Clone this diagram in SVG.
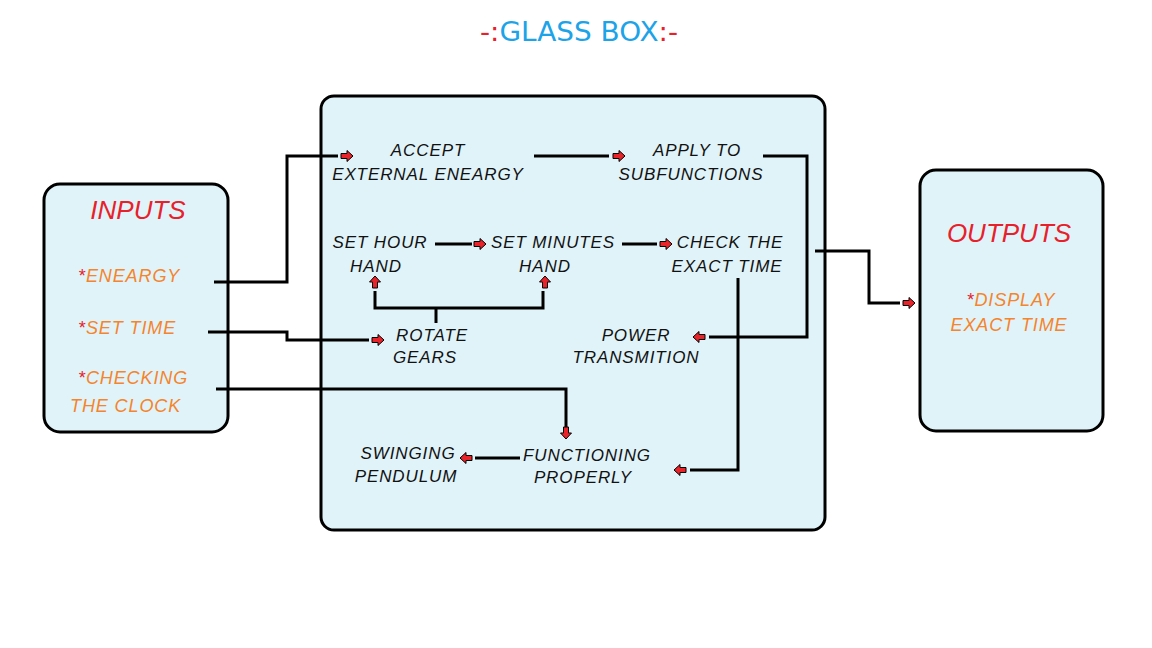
<svg xmlns="http://www.w3.org/2000/svg" xmlns:xlink="http://www.w3.org/1999/xlink" width="1152" height="648" viewBox="0 0 1152 648">
<style>
.box{fill:#e0f3f9;stroke:#000;stroke-width:3}
.wire{fill:none;stroke:#000;stroke-width:3}
.lbl{font-family:"Liberation Sans","DejaVu Sans",sans-serif;font-style:italic;font-size:17px;letter-spacing:0.9px;fill:#111;text-anchor:middle}
.head{font-family:"Liberation Sans","DejaVu Sans",sans-serif;font-style:italic;font-size:26px;fill:#e8202a;text-anchor:middle}
.item{font-family:"Liberation Sans","DejaVu Sans",sans-serif;font-style:italic;font-size:18px;letter-spacing:0.9px;fill:#f5842c}
.ast{fill:#e8202a}
.title{font-family:"DejaVu Sans",sans-serif;font-size:26px;text-anchor:middle}
</style>
<defs>
<path id="arr" d="M-12,-2.5 H-6 V-5.5 L0,0 L-6,5.5 V2.5 H-12 Z" fill="#e8242a" stroke="#000" stroke-width="1"/>
</defs>
<rect width="1152" height="648" fill="#fff"/>
<g id="title"><text class="title" x="579" y="41" textLength="198" lengthAdjust="spacingAndGlyphs"><tspan fill="#e8202a">-:</tspan><tspan fill="#1ca3e8">GLASS BOX</tspan><tspan fill="#e8202a">:-</tspan></text></g>
<g id="glassbox"><rect class="box" x="321" y="96" width="504" height="434" rx="13"/></g>
<g id="inputs"><rect class="box" x="44" y="184" width="184" height="248" rx="16"/>
<text class="head" x="138" y="219">INPUTS</text>
<text class="item" x="78" y="282"><tspan class="ast">*</tspan>ENEARGY</text>
<text class="item" x="78" y="334"><tspan class="ast">*</tspan>SET TIME</text>
<text class="item" x="78" y="384"><tspan class="ast">*</tspan>CHECKING</text>
<text class="item" x="70" y="412">THE CLOCK</text>
</g>
<g id="outputs"><rect class="box" x="920" y="170" width="183" height="261" rx="16"/>
<text class="head" x="1009" y="242">OUTPUTS</text>
<text class="item" x="1011" y="306" text-anchor="middle"><tspan class="ast">*</tspan>DISPLAY</text>
<text class="item" x="1009" y="331" text-anchor="middle">EXACT TIME</text>
</g>
<g id="connectors">
<polyline class="wire" points="214,282 287,282 287,156 338,156"/>
<polyline class="wire" points="208,332 287,332 287,340 369,340"/>
<polyline class="wire" points="216,389 566,389 566,427"/>
<polyline class="wire" points="534,156 609,156"/>
<polyline class="wire" points="763,156 807,156 807,337 709,337"/>
<polyline class="wire" points="435,244 472,244"/>
<polyline class="wire" points="622,244 657,244"/>
<polyline class="wire" points="738,278 738,470 690,470"/>
<polyline class="wire" points="436,323 436,308"/>
<polyline class="wire" points="375,291 375,308 543,308 543,291"/>
<polyline class="wire" points="520,458 475,458"/>
<polyline class="wire" points="815,251 869,251 869,303 900,303"/>
<use xlink:href="#arr" transform="translate(353,156)"/>
<use xlink:href="#arr" transform="translate(384,340)"/>
<use xlink:href="#arr" transform="translate(566,439) rotate(90)"/>
<use xlink:href="#arr" transform="translate(625,156)"/>
<use xlink:href="#arr" transform="translate(693,337) rotate(180)"/>
<use xlink:href="#arr" transform="translate(486,244)"/>
<use xlink:href="#arr" transform="translate(672,244)"/>
<use xlink:href="#arr" transform="translate(674,470) rotate(180)"/>
<use xlink:href="#arr" transform="translate(375,276) rotate(-90)"/>
<use xlink:href="#arr" transform="translate(545,276) rotate(-90)"/>
<use xlink:href="#arr" transform="translate(460,458) rotate(180)"/>
<use xlink:href="#arr" transform="translate(915,303)"/>
</g>
<g id="accept"><text class="lbl" x="428" y="156">ACCEPT</text><text class="lbl" x="428" y="180">EXTERNAL ENEARGY</text></g>
<g id="apply"><text class="lbl" x="697" y="156">APPLY TO</text><text class="lbl" x="691" y="180">SUBFUNCTIONS</text></g>
<g id="sethour"><text class="lbl" x="380" y="248">SET HOUR</text><text class="lbl" x="376" y="272">HAND</text></g>
<g id="setmin"><text class="lbl" x="553" y="248">SET MINUTES</text><text class="lbl" x="545" y="272">HAND</text></g>
<g id="check"><text class="lbl" x="730" y="248">CHECK THE</text><text class="lbl" x="727" y="272">EXACT TIME</text></g>
<g id="rotate"><text class="lbl" x="432" y="341">ROTATE</text><text class="lbl" x="425" y="363">GEARS</text></g>
<g id="power"><text class="lbl" x="636" y="341">POWER</text><text class="lbl" x="636" y="363">TRANSMITION</text></g>
<g id="swinging"><text class="lbl" x="408" y="459">SWINGING</text><text class="lbl" x="406" y="482">PENDULUM</text></g>
<g id="functioning"><text class="lbl" x="587" y="461">FUNCTIONING</text><text class="lbl" x="583" y="483">PROPERLY</text></g>
</svg>
